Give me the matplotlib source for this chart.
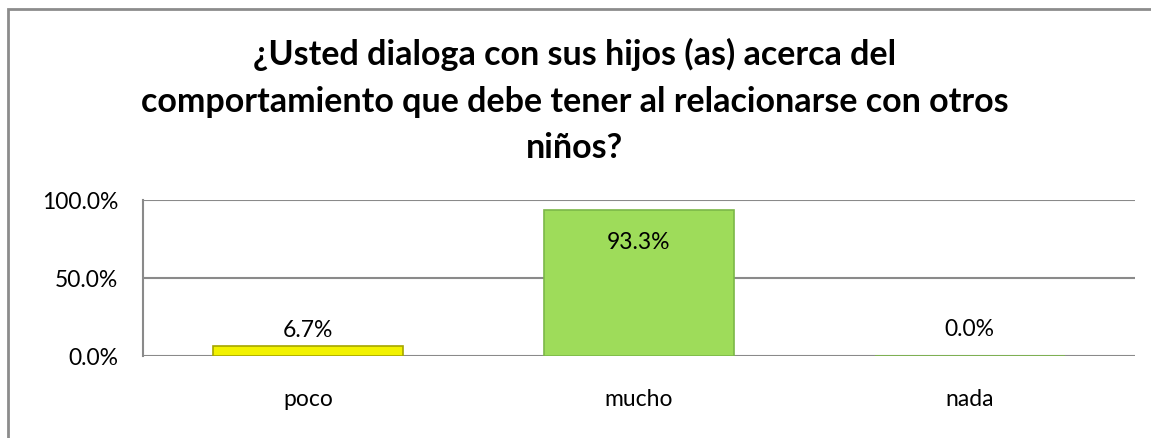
import matplotlib
matplotlib.use("Agg")
import matplotlib.pyplot as plt
from matplotlib.patches import Rectangle

categories = ["poco", "mucho", "nada"]
values = [6.7, 93.3, 0.0]
labels = ["6.7%", "93.3%", "0.0%"]
yticks = [0, 50, 100]
ytick_labels = ["0.0%", "50.0%", "100.0%"]
title = "¿Usted dialoga con sus hijos (as) acerca del\ncomportamiento que debe tener al relacionarse con otros\nniños?"

plt.rcParams['font.family'] = ['Lato', 'DejaVu Sans']

W, H = 1151, 439
fig = plt.figure(figsize=(W / 100, H / 100), dpi=100)

# outer chart border
fig.patches.append(Rectangle((8 / W, -0.05), 1.1, (H - 10) / H + 0.05, transform=fig.transFigure,
                             fill=False, edgecolor="#8c8c8c", linewidth=2.0))

ax = fig.add_axes([143 / W, 82 / H, (1135 - 143) / W, 156 / H])
ax.set_xlim(-0.5, 2.5)
ax.set_ylim(0, 100)

gcol = "#8a8a8a"
for y in yticks:
    ax.axhline(y, color=gcol, linewidth=1.5, zorder=1)
for s in ["top", "right", "bottom"]:
    ax.spines[s].set_visible(False)
ax.spines["left"].set_color(gcol)
ax.spines["left"].set_linewidth(1.5)

face = ["#f2f200", "#9edc5a", "#9edc5a"]
edge = ["#a6a600", "#7cb848", "#7cb848"]
x = list(range(len(categories)))
bars = ax.bar(x, values, width=0.575, color=face, edgecolor=edge, linewidth=1.2, zorder=2)

fs = 16.5
for i, (v, lab) in enumerate(zip(values, labels)):
    if v > 50:
        ax.annotate(lab, (i, v), xytext=(0, -31), textcoords="offset pixels",
                    ha="center", va="center", fontsize=fs, color="black")
    else:
        off = 16 if v > 0 else 27
        ax.annotate(lab, (i, v), xytext=(0, off), textcoords="offset pixels",
                    ha="center", va="center", fontsize=fs, color="black")

ax.set_yticks(yticks)
ax.set_yticklabels(ytick_labels, fontsize=fs)
ax.set_xticks(x)
ax.set_xticklabels(categories, fontsize=fs)
ax.tick_params(axis="both", length=0)
ax.tick_params(axis="y", pad=18)
ax.tick_params(axis="x", pad=23)

t = fig.text(575 / W, 1 - 101 / H, title, ha="center", va="center", fontsize=24.5,
             fontweight="bold", linespacing=1.55)

fig.savefig("out.png", dpi=100)
